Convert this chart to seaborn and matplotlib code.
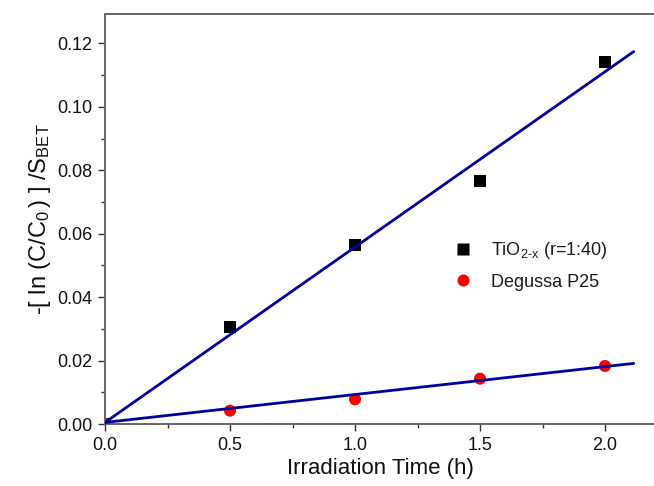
import numpy as np
import pandas as pd
import seaborn as sns
import matplotlib
matplotlib.use("Agg")
import matplotlib.pyplot as plt
from matplotlib.ticker import MultipleLocator, FormatStrFormatter

# Irradiation times (h)
time_h = [0.0, 0.5, 1.0, 1.5, 2.0]

# Surface-normalised rate data, -ln(C/C0)/S_BET
tio2_values = [0.0, 0.0305, 0.0565, 0.0767, 0.1143]
p25_values = [0.0, 0.0042, 0.0078, 0.0143, 0.0183]

series_labels = [r"TiO$_\mathregular{2\text{-}x}$ (r=1:40)", "Degussa P25"]

# Linear fits (slope, intercept) drawn over the fitted range
fit_slopes = [0.0553, 0.0088]
fit_intercepts = [0.0005, 0.0005]
fit_range = [0.0, 2.115]

x_ticks = [0.0, 0.5, 1.0, 1.5, 2.0]
y_ticks = [0.00, 0.02, 0.04, 0.06, 0.08, 0.10, 0.12]

sns.set_theme(style="ticks")
plt.rcParams["font.family"] = ["Liberation Sans", "DejaVu Sans"]
plt.rcParams["mathtext.fontset"] = "custom"
plt.rcParams["mathtext.rm"] = "Liberation Sans"
plt.rcParams["mathtext.it"] = "Liberation Sans:italic"
plt.rcParams["mathtext.bf"] = "Liberation Sans:bold"

fig = plt.figure(figsize=(6.54, 4.86), dpi=100)
ax = fig.add_axes([105 / 654, 62 / 486, 550 / 654, 410 / 486])

df = pd.DataFrame({
    "time": time_h * 2,
    "value": tio2_values + p25_values,
    "sample": [series_labels[0]] * len(time_h) + [series_labels[1]] * len(time_h),
})

line_color = "#0000A0"
for slope, intercept in zip(fit_slopes, fit_intercepts):
    xs = np.array(fit_range)
    sns.lineplot(x=xs, y=intercept + slope * xs, ax=ax, color=line_color,
                 linewidth=2.0, legend=False, zorder=3)

sns.scatterplot(data=df, x="time", y="value", hue="sample", style="sample",
                markers={series_labels[0]: "s", series_labels[1]: "o"},
                palette={series_labels[0]: "black", series_labels[1]: "#FF0000"},
                s=75, edgecolor="none", ax=ax, zorder=2)

handles, labels = ax.get_legend_handles_labels()
leg = ax.legend(handles, labels, loc="upper left", bbox_to_anchor=(0.589, 0.488),
                frameon=False, fontsize=13, handletextpad=0.55, labelspacing=0.7,
                borderpad=0.4, handlelength=2.0, markerscale=1.0)
for txt in leg.get_texts():
    txt.set_color("#1a1a1a")

ax.set_xlim(0, 2.2)
ax.set_ylim(0, 0.1293)
ax.set_xticks(x_ticks)
ax.set_yticks(y_ticks)
ax.xaxis.set_minor_locator(MultipleLocator(0.25))
ax.yaxis.set_minor_locator(MultipleLocator(0.01))
ax.xaxis.set_major_formatter(FormatStrFormatter("%.1f"))
ax.yaxis.set_major_formatter(FormatStrFormatter("%.2f"))

spine_color = "#666666"
for side in ["left", "bottom", "top"]:
    ax.spines[side].set_color(spine_color)
    ax.spines[side].set_linewidth(1.4)
ax.spines["right"].set_visible(False)
ax.tick_params(which="major", direction="out", length=5, width=1.0,
               color="#333333", labelsize=13, labelcolor="#111111", pad=4)
ax.tick_params(which="minor", direction="out", length=3, width=1.0, color="#333333")
ax.tick_params(top=False, right=False)

ax.set_xlabel("Irradiation Time (h)", fontsize=16, labelpad=3, color="#111111")
ax.set_ylabel(r"-$\left[\ \mathregular{ln\ (C/C_0\,)}\ \right]$ /S$_\mathregular{BET}$",
              fontsize=17, labelpad=3, color="#111111")

fig.savefig("out.png", dpi=100)
